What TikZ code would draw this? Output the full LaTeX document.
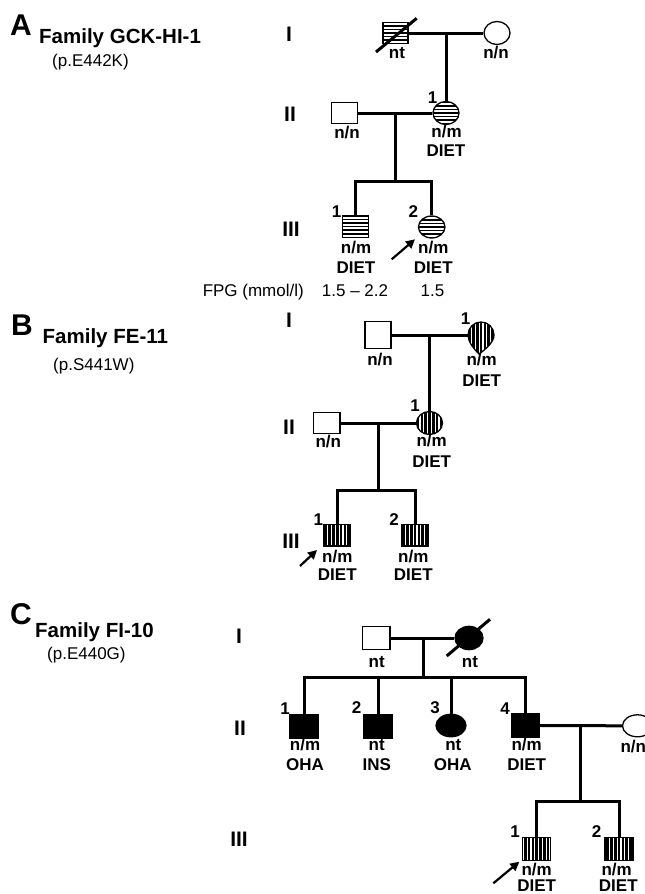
\documentclass[tikz,border=0pt]{standalone}
\usepackage{fontspec}
\setmainfont{Liberation Sans}
\usetikzlibrary{shapes.geometric,arrows.meta}
\begin{document}
\begin{tikzpicture}[x=1pt,y=-1pt,
  conn/.style={line width=3pt},
  ind/.style={draw, line width=1.3pt, inner sep=0pt, fill=white},
  male/.style={ind, rectangle},
  female/.style={ind, ellipse},
  aff/.style={fill=black},
  hstripes/.style={path picture={\foreach \k in {-7,...,7}{\draw[line width=1.6pt] ([yshift=\k*3.6pt]path picture bounding box.west) -- ([yshift=\k*3.6pt]path picture bounding box.east);}}},
  vstripes/.style={path picture={\foreach \k in {-7,...,7}{\draw[line width=2.6pt] ([xshift=\k*3.8pt]path picture bounding box.north) -- ([xshift=\k*3.8pt]path picture bounding box.south);}}},
  lab/.style={font=\fontsize{17}{17}\selectfont\bfseries, inner sep=0pt},
  gen/.style={font=\fontsize{21}{21}\selectfont\bfseries, inner sep=0pt},
  big/.style={font=\fontsize{30}{30}\selectfont\bfseries, inner sep=0pt, anchor=base west},
  fam/.style={font=\fontsize{20.5}{20.5}\selectfont\bfseries, inner sep=0pt, anchor=base west},
  mut/.style={font=\fontsize{17}{17}\selectfont, inner sep=0pt, anchor=base west},
  reg/.style={font=\fontsize{17}{17}\selectfont, inner sep=0pt},
  dead/.style={line width=3pt},
  proband/.style={line width=2.2pt, -{Triangle[length=9pt,width=9pt]}},
]
\useasboundingbox (0,0) rectangle (645,894);
\fill[white] (0,0) rectangle (645,894);
\clip (0,0) rectangle (645,894);

% ---------------- Panel A ----------------
\node[big] (tA) at (10,35) {A};
\node[fam] (fA) at (39,43) {Family GCK-HI-1};
\node[mut] (mA) at (52,66.5) {(p.E442K)};
\node[gen] (agI) at (289,34) {I};
\node[gen] (agII) at (290,114) {II};
\node[gen] (agIII) at (291,229) {III};

\node[male, hstripes, minimum width=25pt, minimum height=21pt] (a1m) at (395.5,33) {};
\node[female, minimum width=26pt, minimum height=23pt] (a1f) at (497,33) {};
\coordinate (a1c) at (446,33);
\draw[conn] (a1m.east) -- (a1f.west);
\node[female, hstripes, minimum width=26pt, minimum height=23pt] (a2f) at (446,113) {};
\draw[conn] (a1c) -- (a2f.north);
\node[male, minimum width=25.5pt, minimum height=21pt] (a2m) at (344.5,113) {};
\draw[conn] (a2m.east) -- (a2f.west);
\coordinate (a2c) at (395,113);
\coordinate (a3s) at (395,181.5);
\node[male, hstripes, minimum width=25.5pt, minimum height=21.5pt] (a3m) at (355.5,226.5) {};
\node[female, hstripes, minimum width=26.5pt, minimum height=22pt] (a3f) at (431.7,227) {};
\draw[conn] (a2c) -- (a3s);
\draw[conn] (a3m.north) |- (a3s) -| (a3f.north);
\draw[dead] (376,52) -- (416.7,18.3);

\node[lab] (la1) at (397,53) {nt};
\node[lab] (la2) at (496,53) {n/n};
\node[lab] (la3) at (432.7,98) {1};
\node[lab] (la4) at (446.5,131.5) {n/m};
\node[lab] (la5) at (446,150.5) {DIET};
\node[lab] (la6) at (347,133) {n/n};
\node[lab] (la7) at (336.7,211.5) {1};
\node[lab] (la8) at (356,248) {n/m};
\node[lab] (la9) at (356,267.5) {DIET};
\node[lab] (la10) at (413.3,211.5) {2};
\node[lab] (la11) at (433.3,248) {n/m};
\node[lab] (la12) at (433.3,267.5) {DIET};
\coordinate (aArS) at (391.7,259.3);
\coordinate (aArE) at (415,239.3);
\draw[proband] (aArS) -- (aArE);

\node[reg, anchor=base east] (fpg) at (304,296) {FPG (mmol/l)};
\node[reg, anchor=base] (fpg1) at (355,296) {1.5 – 2.2};
\node[reg, anchor=base] (fpg2) at (432.5,296) {1.5};

% ---------------- Panel B ----------------
\node[big] (tB) at (11,335) {B};
\node[fam] (fB) at (42.5,343) {Family FE-11};
\node[mut] (mB) at (53,370) {(p.S441W)};
\node[gen] (bgI) at (289,320) {I};
\node[gen] (bgII) at (289,427) {II};
\node[gen] (bgIII) at (291,541) {III};

\node[male, minimum width=26pt, minimum height=27pt] (b1m) at (378,335) {};
\coordinate (b1f) at (468,335);
\path[draw, line width=1.3pt, fill=white, vstripes]
  (479,354) .. controls (474,349) and (468,342) .. (468,335)
  .. controls (468,327.8) and (473.8,322) .. (481,322)
  .. controls (488.2,322) and (494,327.8) .. (494,335)
  .. controls (494,342) and (486,349) .. (479,354) -- cycle;
\draw[conn] (b1m.east) -- (b1f);
\coordinate (b1c) at (429.5,335);
\node[female, vstripes, minimum width=26pt, minimum height=23pt] (b2f) at (429.5,423) {};
\draw[conn] (b1c) -- (b2f.north);
\node[male, minimum width=26.7pt, minimum height=21pt] (b2m) at (326.7,423) {};
\draw[conn] (b2m.east) -- (b2f.west);
\coordinate (b2c) at (378,423);
\coordinate (b3s) at (378,490.7);
\node[male, vstripes, minimum width=26.7pt, minimum height=21.7pt] (b3m1) at (337.3,535) {};
\node[male, vstripes, minimum width=26.7pt, minimum height=21.7pt] (b3m2) at (415,535) {};
\draw[conn] (b2c) -- (b3s);
\draw[conn] (b3m1.north) |- (b3s) -| (b3m2.north);

\node[lab] (lb1) at (380,360) {n/n};
\node[lab] (lb2) at (465.7,318.3) {1};
\node[lab] (lb3) at (481.7,360) {n/m};
\node[lab] (lb4) at (481.7,380.7) {DIET};
\node[lab] (lb5) at (415,406) {1};
\node[lab] (lb6) at (431.7,440.7) {n/m};
\node[lab] (lb7) at (328.3,441.7) {n/n};
\node[lab] (lb8) at (431.7,461.7) {DIET};
\node[lab] (lb9) at (318.3,520) {1};
\node[lab] (lb10) at (337.3,556.7) {n/m};
\node[lab] (lb11) at (337.3,575) {DIET};
\node[lab] (lb12) at (394,520) {2};
\node[lab] (lb13) at (413.3,556.7) {n/m};
\node[lab] (lb14) at (413.3,575) {DIET};
\coordinate (bArS) at (300,566);
\coordinate (bArE) at (317,550);
\draw[proband] (bArS) -- (bArE);

% ---------------- Panel C ----------------
\node[big] (tC) at (10,624) {C};
\node[fam] (fC) at (35,637) {Family FI-10};
\node[mut] (mC) at (47,659) {(p.E440G)};
\node[gen] (cgI) at (239,636) {I};
\node[gen] (cgII) at (240,728) {II};
\node[gen] (cgIII) at (239,839) {III};

\node[male, minimum width=27.7pt, minimum height=23.3pt] (c1m) at (376,638) {};
\node[female, aff, minimum width=28pt, minimum height=23.3pt] (c1f) at (469,638) {};
\draw[conn] (c1m.east) -- (c1f.west);
\draw[dead] (446.7,656) -- (490,619.3);
\coordinate (c1c) at (423.3,638);
\coordinate (c2s) at (423.3,677.3);
\node[male, aff, minimum width=28pt, minimum height=23.7pt] (c2m1) at (304,726) {};
\node[male, aff, minimum width=28pt, minimum height=23.7pt] (c2m2) at (378,726) {};
\node[female, aff, minimum width=30pt, minimum height=22.5pt] (c2f3) at (451,725.5) {};
\node[male, aff, minimum width=28pt, minimum height=23pt] (c2m4) at (525.5,725.5) {};
\draw[conn] (c1c) -- (c2s);
\draw[conn] (c2m1.north) |- (c2s) -| (c2m4.north);
\draw[conn] (c2m2.north) -- (c2m2.north |- c2s);
\draw[conn] (c2f3.north) -- (c2f3.north |- c2s);
\node[female, minimum width=30pt, minimum height=22pt] (c2sp) at (637.5,725.8) {};
\draw[conn] (c2m4.east) -- (c2sp.west);
\coordinate (c2c) at (580,725.5);
\coordinate (c3s) at (580,801);
\node[male, vstripes, minimum width=28pt, minimum height=23.3pt] (c3m1) at (536.7,849) {};
\node[male, vstripes, minimum width=28pt, minimum height=23.3pt] (c3m2) at (619,849) {};
\draw[conn] (c2c) -- (c3s);
\draw[conn] (c3m1.north) |- (c3s) -| (c3m2.north);

\node[lab] (lc1) at (376.7,661.7) {nt};
\node[lab] (lc2) at (470,661.7) {nt};
\node[lab] (lc3) at (285,708.3) {1};
\node[lab] (lc4) at (305,745) {n/m};
\node[lab] (lc5) at (305,765) {OHA};
\node[lab] (lc6) at (356.7,708) {2};
\node[lab] (lc7) at (376.7,745) {nt};
\node[lab] (lc8) at (376.7,765) {INS};
\node[lab] (lc9) at (435,708) {3};
\node[lab] (lc10) at (453.3,745) {nt};
\node[lab] (lc11) at (452.7,765) {OHA};
\node[lab] (lc12) at (505,708.3) {4};
\node[lab] (lc13) at (526.7,745) {n/m};
\node[lab] (lc14) at (526.7,765) {DIET};
\node[lab] (lc15) at (633.3,746.7) {n/n};
\node[lab] (lc16) at (515,831.7) {1};
\node[lab] (lc17) at (536.7,869) {n/m};
\node[lab] (lc18) at (536.7,886) {DIET};
\node[lab] (lc19) at (596.7,831.7) {2};
\node[lab] (lc20) at (616.7,869) {n/m};
\node[lab] (lc21) at (618.3,886) {DIET};
\coordinate (cArS) at (493.3,883.3);
\coordinate (cArE) at (519.3,861.7);
\draw[proband] (cArS) -- (cArE);
\end{tikzpicture}
\end{document}
